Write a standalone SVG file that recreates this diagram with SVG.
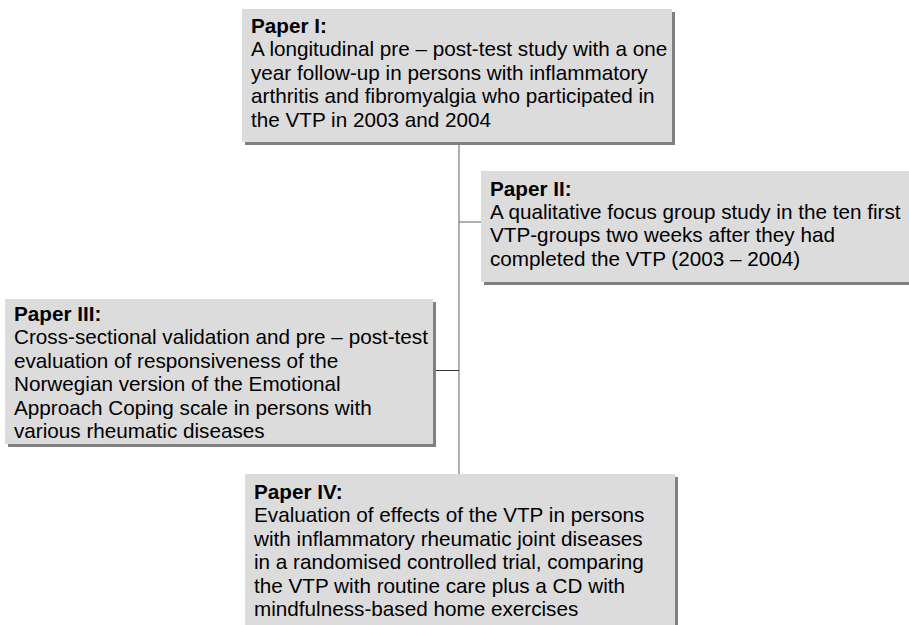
<svg xmlns="http://www.w3.org/2000/svg" width="909" height="625" viewBox="0 0 909 625">
<style>
.box{fill:#dcdcdc}
.sh{fill:#808080}
text{font-family:"Liberation Sans",Arial,sans-serif;font-size:20.7px;fill:#000}
.t{font-weight:bold}
.ln{stroke:#7a7a7a;stroke-width:1.2;fill:none}
.dk{stroke:#333;stroke-width:1;fill:none}
</style>
<rect width="909" height="625" fill="#fff"/>
<g id="connectors">
<line class="ln" x1="459" y1="142" x2="459" y2="474"/>
<line class="ln" x1="459" y1="222" x2="481" y2="222"/>
<line class="dk" x1="436" y1="370.5" x2="459" y2="370.5"/>
</g>
<g id="paper1">
<rect class="sh" x="245" y="12" width="430" height="133"/>
<rect class="box" x="242" y="9" width="430" height="133"/>
<text x="251" y="33"><tspan class="t">Paper I:</tspan><tspan x="251" y="56.4">A longitudinal pre – post-test study with a one</tspan><tspan x="251" y="79.8">year follow-up in persons with inflammatory</tspan><tspan x="251" y="103.2">arthritis and fibromyalgia who participated in</tspan><tspan x="251" y="126.6">the VTP in 2003 and 2004</tspan></text>
</g>
<g id="paper2">
<rect class="sh" x="484" y="174" width="430" height="111"/>
<rect class="box" x="481" y="171" width="430" height="111"/>
<text x="490" y="195.5"><tspan class="t">Paper II:</tspan><tspan x="490" y="218.9">A qualitative focus group study in the ten first</tspan><tspan x="490" y="242.3">VTP-groups two weeks after they had</tspan><tspan x="490" y="265.7">completed the VTP (2003 – 2004)</tspan></text>
</g>
<g id="paper3">
<rect class="sh" x="8" y="302" width="428" height="145"/>
<rect class="box" x="5" y="299" width="428" height="145"/>
<text x="14" y="321"><tspan class="t">Paper III:</tspan><tspan x="14" y="344.4">Cross-sectional validation and pre – post-test</tspan><tspan x="14" y="367.8">evaluation of responsiveness of the</tspan><tspan x="14" y="391.2">Norwegian version of the Emotional</tspan><tspan x="14" y="414.6">Approach Coping scale in persons with</tspan><tspan x="14" y="438">various rheumatic diseases</tspan></text>
</g>
<g id="paper4">
<rect class="sh" x="248" y="477" width="430" height="160"/>
<rect class="box" x="245" y="474" width="430" height="160"/>
<text x="254" y="499"><tspan class="t">Paper IV:</tspan><tspan x="254" y="522.4">Evaluation of effects of the VTP in persons</tspan><tspan x="254" y="545.8">with inflammatory rheumatic joint diseases</tspan><tspan x="254" y="569.2">in a randomised controlled trial, comparing</tspan><tspan x="254" y="592.6">the VTP with routine care plus a CD with</tspan><tspan x="254" y="616">mindfulness-based home exercises</tspan></text>
</g>
</svg>
